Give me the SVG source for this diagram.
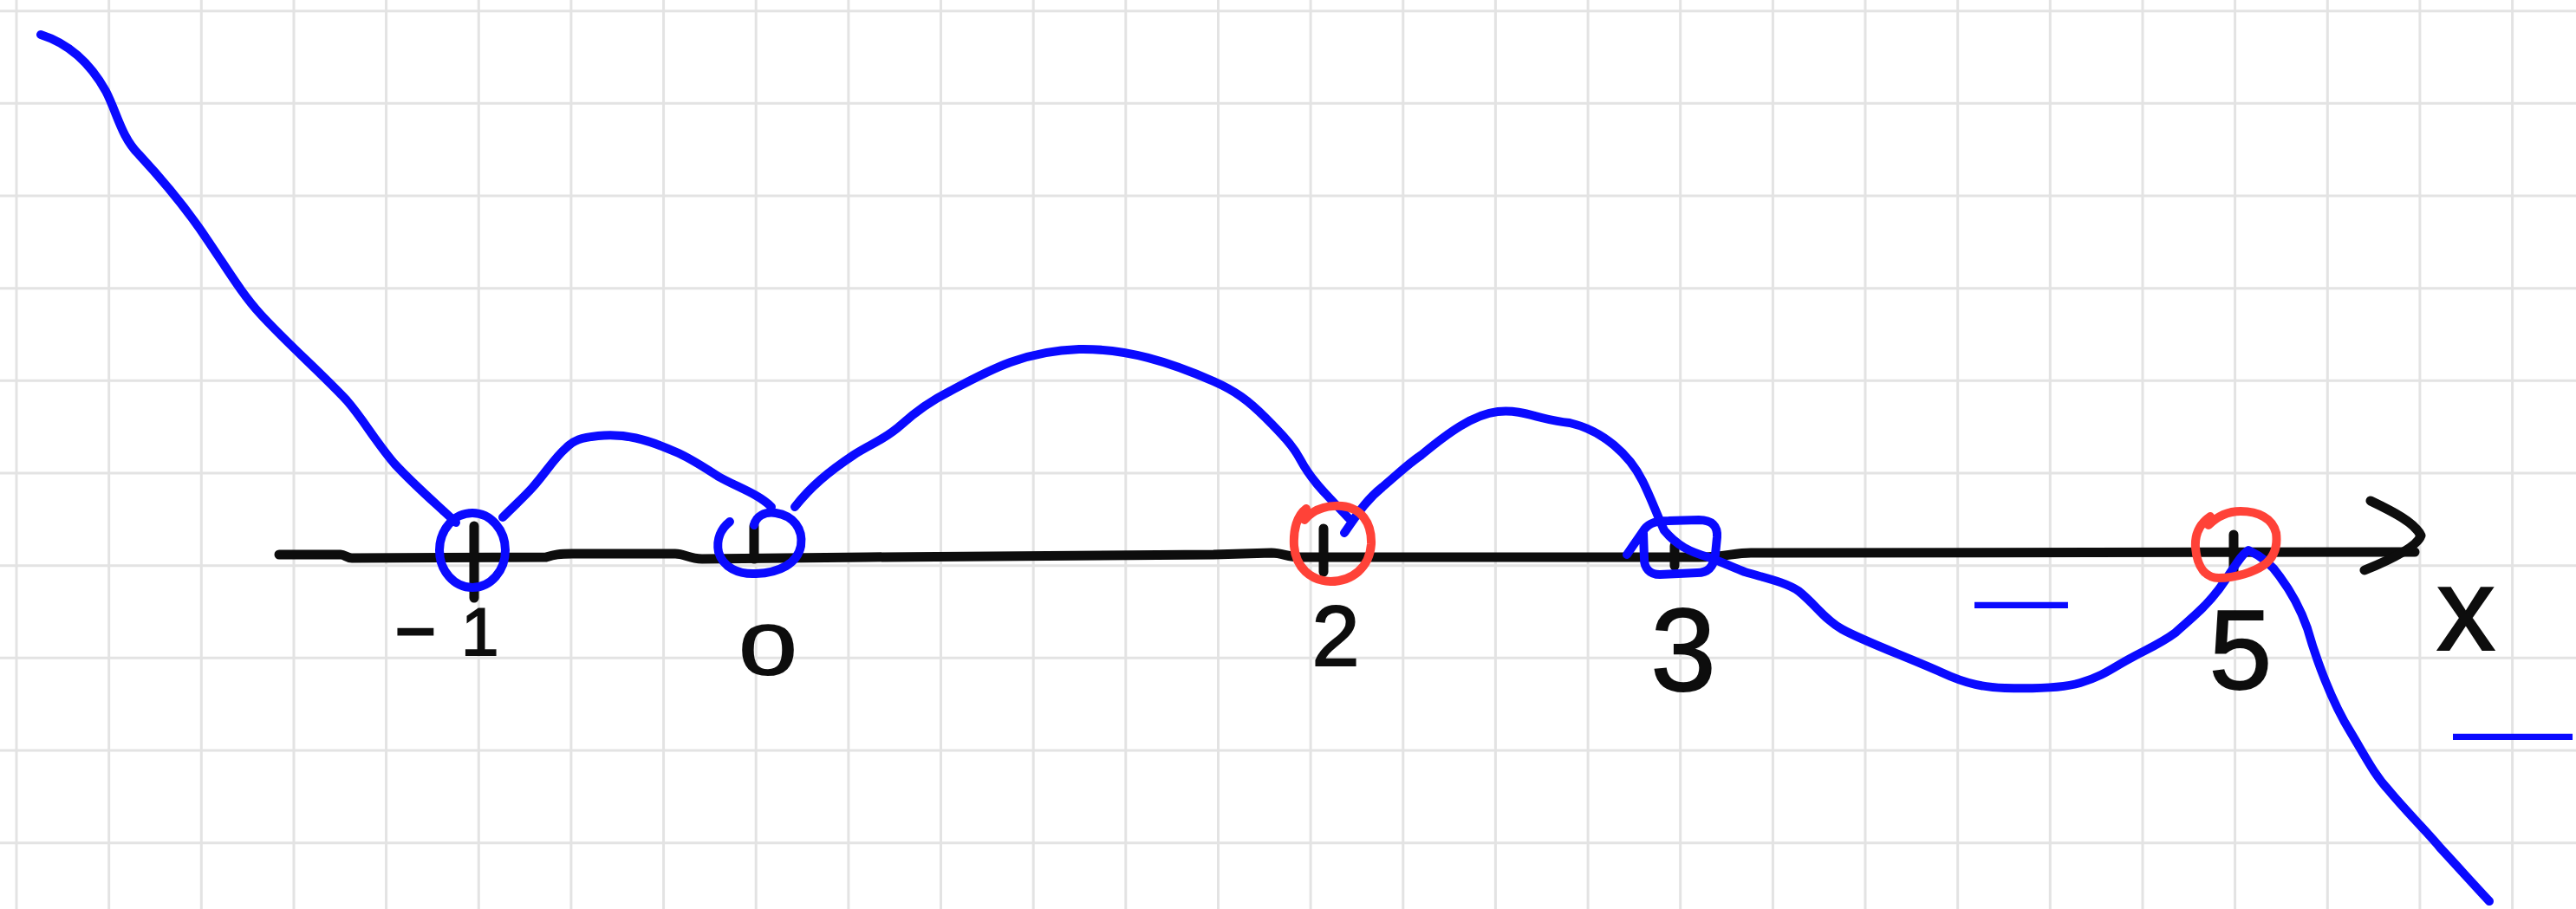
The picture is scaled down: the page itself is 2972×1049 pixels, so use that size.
<svg xmlns="http://www.w3.org/2000/svg" width="2972" height="1049" viewBox="0 0 2972 1049">
<style>
.grid line{stroke:#e3e3e3;stroke-width:3}
.ink{fill:none;stroke-linecap:round;stroke-linejoin:round}
.blue{stroke:#0a0aff;stroke-width:10}
.red{stroke:#ff4238;stroke-width:10}
.black{stroke:#0d0d0d;stroke-width:11}
.lbl{font-family:"Liberation Sans",Arial,sans-serif;fill:#0d0d0d;stroke:#0d0d0d;stroke-width:2}
.sign{font-family:"Liberation Sans",Arial,sans-serif;fill:#0a0aff}
</style>
<rect width="2972" height="1049" fill="#ffffff"/>
<g id="grid" class="grid">
<line x1="19" y1="0" x2="19" y2="1049"/><line x1="125.7" y1="0" x2="125.7" y2="1049"/><line x1="232.3" y1="0" x2="232.3" y2="1049"/><line x1="339" y1="0" x2="339" y2="1049"/><line x1="445.6" y1="0" x2="445.6" y2="1049"/><line x1="552.3" y1="0" x2="552.3" y2="1049"/><line x1="658.9" y1="0" x2="658.9" y2="1049"/><line x1="765.6" y1="0" x2="765.6" y2="1049"/><line x1="872.2" y1="0" x2="872.2" y2="1049"/><line x1="978.9" y1="0" x2="978.9" y2="1049"/><line x1="1085.5" y1="0" x2="1085.5" y2="1049"/><line x1="1192.2" y1="0" x2="1192.2" y2="1049"/><line x1="1298.8" y1="0" x2="1298.8" y2="1049"/><line x1="1405.5" y1="0" x2="1405.5" y2="1049"/><line x1="1512.1" y1="0" x2="1512.1" y2="1049"/><line x1="1618.8" y1="0" x2="1618.8" y2="1049"/><line x1="1725.4" y1="0" x2="1725.4" y2="1049"/><line x1="1832.1" y1="0" x2="1832.1" y2="1049"/><line x1="1938.7" y1="0" x2="1938.7" y2="1049"/><line x1="2045.4" y1="0" x2="2045.4" y2="1049"/><line x1="2152" y1="0" x2="2152" y2="1049"/><line x1="2258.7" y1="0" x2="2258.7" y2="1049"/><line x1="2365.3" y1="0" x2="2365.3" y2="1049"/><line x1="2472" y1="0" x2="2472" y2="1049"/><line x1="2578.6" y1="0" x2="2578.6" y2="1049"/><line x1="2685.3" y1="0" x2="2685.3" y2="1049"/><line x1="2791.9" y1="0" x2="2791.9" y2="1049"/><line x1="2898.6" y1="0" x2="2898.6" y2="1049"/>
<line x1="0" y1="12.7" x2="2972" y2="12.7"/><line x1="0" y1="119.3" x2="2972" y2="119.3"/><line x1="0" y1="226" x2="2972" y2="226"/><line x1="0" y1="332.7" x2="2972" y2="332.7"/><line x1="0" y1="439.3" x2="2972" y2="439.3"/><line x1="0" y1="546" x2="2972" y2="546"/><line x1="0" y1="652.7" x2="2972" y2="652.7"/><line x1="0" y1="759.3" x2="2972" y2="759.3"/><line x1="0" y1="866" x2="2972" y2="866"/><line x1="0" y1="972.7" x2="2972" y2="972.7"/>
</g>
<g id="axis" class="ink black">
<path d="M322,640 L393,640 C398,640 400,644 406,644 L630,643 C640,640 645,639 660,639 L779,639 C790,639 795,645 810,645 L1000,643 L1400,640 L1467,638 C1480,638 1485,643 1500,643 L1960,643 C1990,643 2000,638 2020,638 L2050,638 L2786,637"/>
<path d="M2735,578 C2760,590 2786,603 2793,618 C2790,628 2770,641 2728,658"/>
<path d="M547,607 L547,690"/>
<path d="M870,607 L870,645"/>
<path d="M1527,610 L1527,660"/>
<path d="M1932,630 L1932,653"/>
<path d="M2577,617 L2577,660"/>
</g>
<g id="curve" class="ink blue">
<path d="M47,40 C85,52 108,80 122,105 C135,130 140,158 160,178 C185,205 215,240 240,278 C265,315 280,340 300,362 C330,395 370,430 400,462 C420,485 432,508 455,535 C480,562 505,583 526,603"/>
<path d="M580,597 C595,582 605,573 614,563 C630,545 640,528 653,517 C662,508 670,505 690,503 C720,500 745,506 783,523 C800,531 815,541 829,550 C850,562 875,570 890,585"/>
<path d="M917,585 C935,562 955,545 985,525 C1005,512 1020,508 1040,490 C1060,472 1075,462 1095,452 C1140,428 1180,405 1245,403 C1300,402 1350,418 1400,440 C1425,451 1440,462 1460,482 C1480,502 1492,515 1500,530 C1515,558 1535,575 1556,598"/>
<path d="M1551,615 C1565,595 1575,578 1595,562 C1615,545 1625,535 1640,525 C1670,500 1700,478 1728,475 C1760,472 1775,485 1811,488 C1850,497 1880,525 1895,555 C1905,575 1912,595 1920,612 C1935,630 1950,637 1971,643 C1985,648 2000,655 2013,660 C2040,668 2060,672 2075,682 C2095,698 2105,715 2125,726 C2150,740 2200,758 2240,776 C2270,790 2290,793 2313,794 C2350,795 2380,794 2400,788 C2420,782 2430,776 2445,767 C2470,752 2490,745 2510,730 C2530,712 2545,700 2560,680 C2575,660 2585,640 2594,635 C2605,640 2620,650 2630,665 C2645,685 2655,705 2662,725 C2672,760 2690,810 2712,845 C2730,875 2740,895 2756,912 C2775,935 2800,960 2815,978 C2840,1005 2855,1022 2872,1040"/>
</g>
<g id="marks" class="ink">
<ellipse id="mark-m1" class="blue" cx="545" cy="635" rx="38" ry="43"/>
<path id="mark-0" class="blue" d="M842,602 C832,610 826,622 829,637 C834,655 852,663 872,662 C900,661 920,650 924,630 C927,610 915,595 895,592 C882,590 872,596 870,606"/>
<path id="mark-2" class="red" d="M1507,587 C1496,595 1492,612 1493,630 C1495,655 1512,670 1535,671 C1560,671 1580,655 1582,628 C1583,603 1570,586 1548,584 C1530,583 1515,588 1505,600"/>
<path id="mark-3" class="blue" d="M1877,640 L1897,611 C1903,603 1912,601 1925,601 L1960,600 C1975,600 1982,607 1981,620 L1979,640 C1977,655 1970,661 1958,661 L1915,663 C1903,663 1897,655 1897,645 L1896,615"/>
<path id="mark-5" class="red" d="M2550,596 C2537,605 2532,617 2533,632 C2535,655 2545,667 2560,667 C2580,667 2600,660 2612,652 C2624,643 2628,630 2626,615 C2622,598 2605,590 2585,590 C2570,590 2558,596 2548,606"/>
</g>
<g id="labels">
<text class="lbl" font-size="78" x="456" y="756"><tspan font-size="80" stroke-width="3">−</tspan><tspan x="532">1</tspan></text>
<text class="lbl" font-size="81" x="886" y="778" text-anchor="middle" textLength="66" lengthAdjust="spacingAndGlyphs">0</text>
<text class="lbl" font-size="99" x="1541" y="768" text-anchor="middle">2</text>
<text class="lbl" font-size="135" x="1942" y="797" text-anchor="middle">3</text>
<text class="lbl" font-size="130" x="2585" y="795" text-anchor="middle">5</text>
<text class="lbl" font-size="135" x="2845" y="750" text-anchor="middle">x</text>
<text class="sign" font-size="110" x="2278" y="726" textLength="108" lengthAdjust="spacingAndGlyphs">—</text>
<text class="sign" font-size="110" x="2830" y="878" textLength="138" lengthAdjust="spacingAndGlyphs">—</text>
</g>
</svg>
